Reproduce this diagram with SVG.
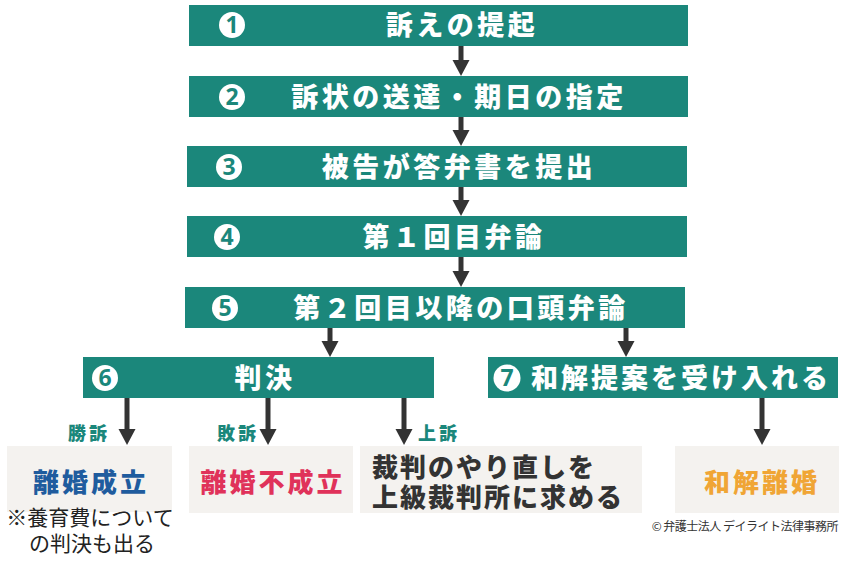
<svg xmlns="http://www.w3.org/2000/svg" width="850" height="571" viewBox="0 0 850 571">
<style>
.bar{fill:#1b877b}
.card{fill:#f4f2ef}
.t{font-family:"Noto Sans CJK JP","Noto Sans",sans-serif;font-weight:900}
.bt{fill:#fff;font-size:27px;letter-spacing:3.5px;text-anchor:middle}
.num{fill:#1b877b;font-size:23px;text-anchor:middle;font-family:"Noto Sans","Liberation Sans",sans-serif;font-weight:700}
.lbl{fill:#1b877b;font-size:18px;letter-spacing:3px}
.res{font-size:26px;letter-spacing:3px;text-anchor:middle}
.conn line{stroke:#333;stroke-width:5}
.conn polygon{fill:#333}
</style>
<rect width="850" height="571" fill="#fff"/>
<g id="n1"><rect class="bar" x="189" y="5" width="499" height="41"/><circle cx="232" cy="25" r="13" fill="#fff"/><text class="num" x="232" y="33">1</text><text class="t bt" x="462" y="35">訴えの提起</text></g>
<g id="n2"><rect class="bar" x="189" y="76" width="499" height="41"/><circle cx="232" cy="97" r="13" fill="#fff"/><text class="num" x="232" y="105">2</text><text class="t bt" x="459" y="107">訴状の送達・期日の指定</text></g>
<g id="n3"><rect class="bar" x="187" y="146" width="500" height="41"/><circle cx="229" cy="167" r="13" fill="#fff"/><text class="num" x="229" y="175">3</text><text class="t bt" x="459" y="177">被告が答弁書を提出</text></g>
<g id="n4"><rect class="bar" x="187" y="216" width="500" height="41"/><circle cx="227" cy="237" r="13" fill="#fff"/><text class="num" x="227" y="245">4</text><text class="t bt" x="454" y="247">第１回目弁論</text></g>
<g id="n5"><rect class="bar" x="185" y="287" width="500" height="41"/><circle cx="225" cy="308" r="13" fill="#fff"/><text class="num" x="225" y="316">5</text><text class="t bt" x="461" y="318">第２回目以降の口頭弁論</text></g>
<g id="n6"><rect class="bar" x="83" y="357" width="351" height="41"/><circle cx="105" cy="378" r="13" fill="#fff"/><text class="num" x="105" y="386">6</text><text class="t bt" x="265" y="388">判決</text></g>
<g id="n7"><rect class="bar" x="488" y="357" width="350" height="41"/><circle cx="507" cy="378" r="13.5" fill="#fff"/><text class="num" x="507" y="386">7</text><text class="t bt" x="681" y="388" style="letter-spacing:3px">和解提案を受け入れる</text></g>
<g id="r1"><rect class="card" x="7" y="446" width="165" height="66"/><text class="t res" x="91" y="492" fill="#1f5c9e">離婚成立</text></g>
<g id="r2"><rect class="card" x="189" y="446" width="164" height="67"/><text class="t res" x="273" y="492" fill="#e0325a">離婚不成立</text></g>
<g id="r3"><rect class="card" x="360" y="446" width="282" height="67"/><text class="t" x="372" y="477" font-size="26" letter-spacing="2" fill="#333">裁判のやり直しを</text><text class="t" x="372" y="507" font-size="26" letter-spacing="2" fill="#333">上級裁判所に求める</text></g>
<g id="r4"><rect class="card" x="675" y="446" width="164" height="67"/><text class="t res" x="762" y="492" fill="#f0a535">和解離婚</text></g>
<g id="note"><text x="90" y="525" text-anchor="middle" font-family="Noto Sans CJK JP,sans-serif" font-size="21" fill="#222">※養育費について</text><text x="92" y="551" text-anchor="middle" font-family="Noto Sans CJK JP,sans-serif" font-size="21" fill="#222">の判決も出る</text></g>
<g id="labels"><text class="t lbl" x="68" y="440">勝訴</text><text class="t lbl" x="217" y="440">敗訴</text><text class="t lbl" x="418" y="440">上訴</text></g>
<text x="838" y="531" text-anchor="end" font-family="Noto Sans CJK JP,sans-serif" font-size="12" fill="#333" letter-spacing="-0.5">© 弁護士法人 デイライト法律事務所</text>
<g class="conn" id="connectors">
<line x1="461" y1="46" x2="461" y2="62"/><polygon points="452.5,60 469.5,60 461,76"/>
<line x1="461" y1="117" x2="461" y2="132"/><polygon points="452.5,130 469.5,130 461,146"/>
<line x1="461" y1="187" x2="461" y2="202"/><polygon points="452.5,200 469.5,200 461,216"/>
<line x1="461" y1="257" x2="461" y2="273"/><polygon points="452.5,271 469.5,271 461,287"/>
<line x1="330" y1="328" x2="330" y2="343"/><polygon points="321.5,341 338.5,341 330,357"/>
<line x1="626" y1="328" x2="626" y2="343"/><polygon points="617.5,341 634.5,341 626,357"/>
<line x1="127" y1="398" x2="127" y2="431"/><polygon points="118.5,429 135.5,429 127,445"/>
<line x1="268" y1="398" x2="268" y2="431"/><polygon points="259.5,429 276.5,429 268,445"/>
<line x1="404" y1="398" x2="404" y2="431"/><polygon points="395.5,429 412.5,429 404,445"/>
<line x1="762" y1="398" x2="762" y2="431"/><polygon points="753.5,429 770.5,429 762,445"/>
</g>
</svg>
